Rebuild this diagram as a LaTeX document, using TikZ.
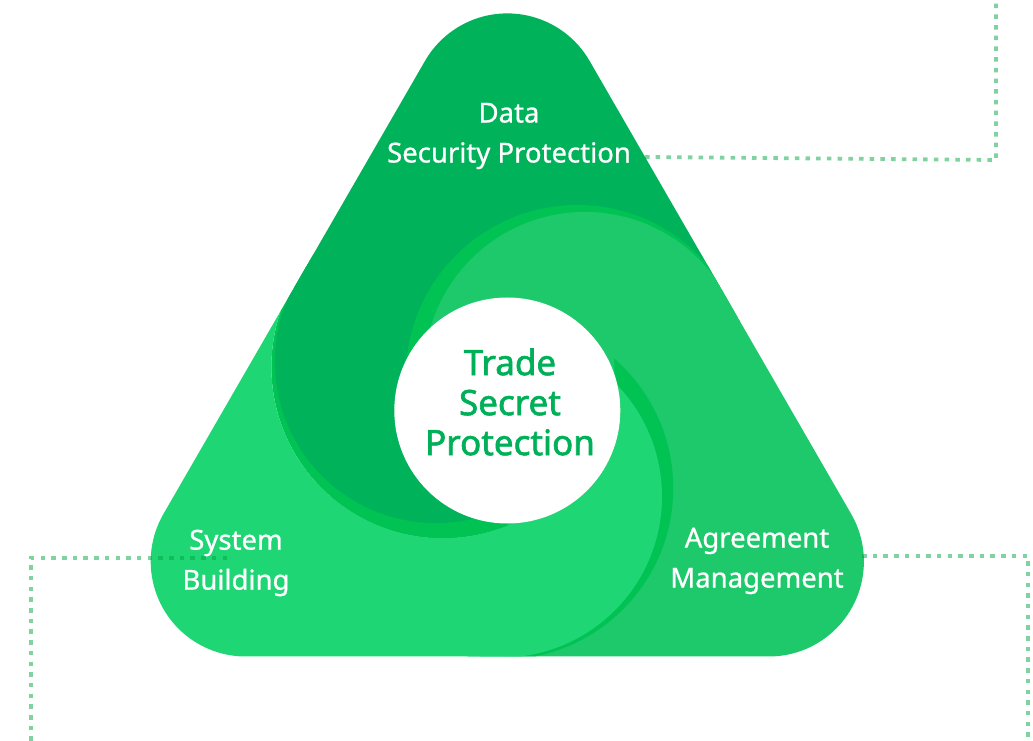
\documentclass[tikz,border=0pt]{standalone}
\usepackage{fontspec}
\setmainfont{Noto Sans}
\newfontfamily\lblfont[FakeBold=0.8]{Noto Sans}
\newfontfamily\ctrfont[FakeBold=1.8]{Noto Sans}
\usetikzlibrary{calc}
\definecolor{dkg}{RGB}{0,178,90}
\definecolor{bnd}{RGB}{0,195,84}
\definecolor{mdg}{RGB}{29,201,106}
\definecolor{ltg}{RGB}{31,214,117}
\definecolor{txg}{RGB}{0,176,88}
\definecolor{dotc}{RGB}{1,165,65}
\newcommand{\segdisk}[3]{%
  \fill[bnd] (#1) circle[radius=171.5];
  \fill[#3] ($(#1)+(#2:8.5)$) circle[radius=161];}
\begin{document}
\begin{tikzpicture}[x=1pt,y=1pt,
  lbl/.style={text=white,font=\lblfont\fontsize{27.5}{40}\selectfont,align=center,inner sep=0pt},
  ctr/.style={text=txg,font=\ctrfont\fontsize{35}{40}\selectfont,align=center,inner sep=0pt},
  link/.style={draw=dotc,draw opacity=0.5,line width=3.8pt,dash pattern=on 4.5pt off 6.2pt},
  hubstyle/.style={circle,fill=white,minimum size=226pt,inner sep=0pt}]
\useasboundingbox (0,0) rectangle (1033,741);
\coordinate (G) at (507.3,330.5);
\coordinate (D) at ($(G)+(145.9:77.8)$);
\coordinate (M) at ($(G)+(25.9:77.8)$);
\coordinate (L) at ($(G)+(265.9:77.8)$);
\begin{scope}
  \clip (245.7,84.5) -- (768.9,84.5) arc[start angle=-90,end angle=30,radius=95]
    -- (589.57,680.1) arc[start angle=30,end angle=150,radius=95]
    -- (163.43,227) arc[start angle=150,end angle=270,radius=95] -- cycle;
  % dark segment
  \segdisk{D}{145}{dkg}
  \fill[dkg] (G) -- ($(G)+(30:800)$) -- ($(G)+(90:900)$) -- ($(G)+(150:800)$) -- cycle;
  % medium segment, over the dark one
  \segdisk{M}{25}{mdg}
  \fill[mdg] (G) -- ($(G)+(270:800)$) -- ($(G)+(330:900)$) -- ($(G)+(30:800)$) -- cycle;
  % light segment, over the medium one and under the dark one
  \begin{scope}
    \clip (-100,-100) -- (1200,-100) -- (1200,900) -- (-100,900) -- cycle
          ($(D)+(171.5,0)$) arc[start angle=0,end angle=-360,radius=171.5] -- cycle;
    \segdisk{L}{265}{ltg}
    \fill[ltg] (G) -- ($(G)+(150:800)$) -- ($(G)+(210:900)$) -- ($(G)+(270:800)$) -- cycle;
  \end{scope}
\end{scope}
\node[hubstyle] (hub) at (G) {};
\node[ctr] (core) at (510,339) {Trade\\Secret\\Protection};
\node[lbl] (data) at (509,605) {Data\\Security Protection};
\node[lbl] (system) at (236,178) {System\\Building};
\node[lbl] (agree) at (757,180) {Agreement\\Management};
% dotted connectors
\coordinate (dA) at (645,584);
\coordinate (dB) at (996,581);
\coordinate (dC) at (996,745);
\coordinate (sA) at (227,183);
\coordinate (sB) at (31,183);
\coordinate (sC) at (31,-5);
\coordinate (aA) at (862,185);
\coordinate (aB) at (1028,185);
\coordinate (aC) at (1028,-5);
\draw[link] (dA) -- (dB) -- (dC);
\draw[link] (sA) -- (sB) -- (sC);
\draw[link] (aA) -- (aB) -- (aC);
\end{tikzpicture}
\end{document}
